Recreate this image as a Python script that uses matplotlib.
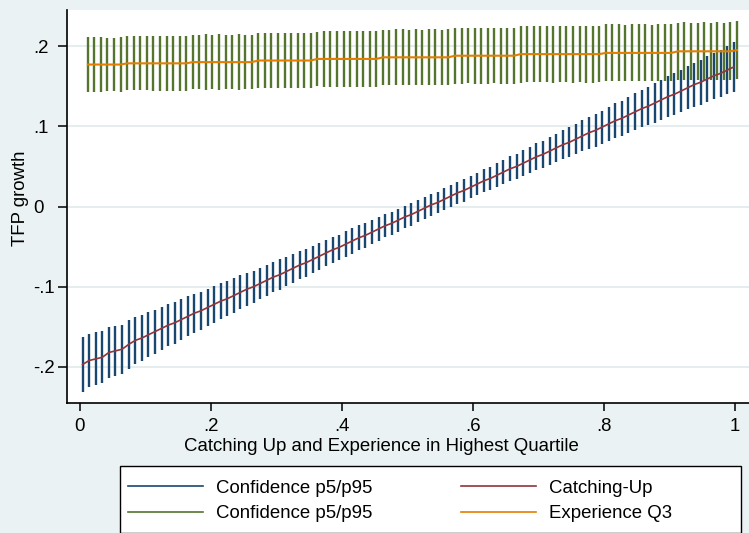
import numpy as np
import matplotlib
matplotlib.use("Agg")
import matplotlib.pyplot as plt
from matplotlib.patches import Rectangle
from matplotlib.lines import Line2D

plt.rcParams['font.family'] = ['Liberation Sans', 'DejaVu Sans']

# ---- data -------------------------------------------------------------
# grid of evaluation points for each interaction term
x_catch = np.linspace(0.004, 0.998, 100)
x_exper = np.linspace(0.012, 1.003, 100)

# predicted TFP growth, catching-up term
catch_mid = [
    -0.197, -0.192, -0.190, -0.188, -0.182, -0.180, -0.178, -0.172, -0.167, -0.164,
    -0.160, -0.156, -0.152, -0.148, -0.145, -0.141, -0.137, -0.133, -0.130, -0.126,
    -0.122, -0.118, -0.115, -0.111, -0.107, -0.103, -0.100, -0.096, -0.092, -0.088,
    -0.085, -0.081, -0.077, -0.073, -0.070, -0.066, -0.062, -0.058, -0.054, -0.051,
    -0.047, -0.043, -0.039, -0.036, -0.032, -0.028, -0.024, -0.021, -0.017, -0.013,
    -0.010, -0.006, -0.002, 0.002, 0.005, 0.009, 0.013, 0.017, 0.020, 0.024,
    0.028, 0.032, 0.035, 0.039, 0.043, 0.047, 0.050, 0.054, 0.058, 0.062,
    0.065, 0.069, 0.073, 0.077, 0.080, 0.084, 0.088, 0.092, 0.095, 0.099,
    0.103, 0.107, 0.110, 0.114, 0.118, 0.122, 0.125, 0.129, 0.133, 0.137,
    0.140, 0.144, 0.148, 0.152, 0.155, 0.159, 0.163, 0.166, 0.170, 0.174,
]
# half-width of the p5/p95 band for the catching-up prediction
catch_hw = [
    0.034, 0.0335, 0.033, 0.0325, 0.032, 0.031, 0.0305, 0.030, 0.0295, 0.029,
    0.028, 0.0275, 0.027, 0.0265, 0.026, 0.0255, 0.025, 0.0245, 0.024, 0.0235,
    0.023, 0.0225, 0.022, 0.0215, 0.021, 0.0205, 0.020, 0.0197, 0.0194, 0.019,
    0.019, 0.0185, 0.018, 0.0177, 0.0174, 0.017, 0.0167, 0.0164, 0.0162, 0.016,
    0.016, 0.0157, 0.0155, 0.0152, 0.015, 0.0148, 0.0146, 0.0144, 0.0142, 0.014,
    0.014, 0.0139, 0.0138, 0.0137, 0.0136, 0.0135, 0.0136, 0.0137, 0.0138, 0.0139,
    0.014, 0.0143, 0.0146, 0.0149, 0.0152, 0.0155, 0.0158, 0.0161, 0.0164, 0.0167,
    0.017, 0.0174, 0.0178, 0.0182, 0.0186, 0.019, 0.0194, 0.0198, 0.0202, 0.0206,
    0.021, 0.0215, 0.022, 0.0225, 0.023, 0.0235, 0.024, 0.0245, 0.025, 0.0255,
    0.026, 0.0265, 0.027, 0.0275, 0.028, 0.0285, 0.029, 0.0295, 0.030, 0.031,
]

# predicted TFP growth, experience in third quartile
exper_mid = (
    [0.177] * 6 + [0.1785] * 10 + [0.180] * 10 + [0.182] * 9 + [0.184] * 10
    + [0.186] * 11 + [0.188] * 10 + [0.190] * 13 + [0.1915] * 11
    + [0.1935] * 9 + [0.195] * 1
)
exper_hw = [
    0.034, 0.0345, 0.0345, 0.0335, 0.0335, 0.034, 0.0335, 0.0335, 0.0335, 0.0335,
    0.034, 0.034, 0.034, 0.0345, 0.034, 0.0345, 0.034, 0.034, 0.0345, 0.034,
    0.0345, 0.034, 0.034, 0.0345, 0.034, 0.034, 0.0345, 0.034, 0.0345, 0.034,
    0.0345, 0.0345, 0.034, 0.0345, 0.0345, 0.034, 0.0345, 0.0345, 0.035, 0.0345,
    0.0345, 0.035, 0.0345, 0.0345, 0.035, 0.0345, 0.0345, 0.035, 0.035, 0.0345,
    0.035, 0.0345, 0.035, 0.035, 0.0345, 0.035, 0.035, 0.035, 0.0345, 0.035,
    0.035, 0.035, 0.0345, 0.035, 0.035, 0.035, 0.0355, 0.035, 0.035, 0.035,
    0.035, 0.0355, 0.035, 0.035, 0.0355, 0.035, 0.0355, 0.0355, 0.035, 0.0355,
    0.0355, 0.0355, 0.035, 0.0355, 0.0355, 0.0355, 0.035, 0.0355, 0.0355, 0.0355,
    0.0355, 0.036, 0.0355, 0.0355, 0.036, 0.0355, 0.036, 0.0355, 0.036, 0.036,
]

x_ticks = [0, 0.2, 0.4, 0.6, 0.8, 1.0]
x_ticklabels = ["0", ".2", ".4", ".6", ".8", "1"]
y_ticks = [-0.2, -0.1, 0, 0.1, 0.2]
y_ticklabels = ["-.2", "-.1", "0", ".1", ".2"]

labels = ["Confidence p5/p95", "Catching-Up", "Confidence p5/p95", "Experience Q3"]

# ---- style ------------------------------------------------------------
NAVY = "#1a476f"
MAROON = "#90353b"
GREEN = "#55752f"
ORANGE = "#e37e00"
BG = "#eaf2f3"
GRID = "#e3ecee"
FS = 13.4

W, H = 749, 533
fig = plt.figure(figsize=(W / 100, H / 100), dpi=100)
fig.patch.set_facecolor(BG)

ax = fig.add_axes([67 / W, (H - 403) / H, 682 / W, 393 / H])
ax.set_facecolor("white")

cm = np.asarray(catch_mid)
ch = np.asarray(catch_hw)
em = np.asarray(exper_mid)
eh = np.asarray(exper_hw)

ax.vlines(x_catch, cm - ch, cm + ch, color=NAVY, lw=1.7, zorder=3)
ax.vlines(x_exper, em - eh, em + eh, color=GREEN, lw=1.7, zorder=3)
ax.plot(x_catch, cm, color=MAROON, lw=1.2, zorder=4)
ax.plot(x_exper, em, color=ORANGE, lw=1.5, zorder=4)

ax.set_xlim(-0.0198, 1.0214)
ax.set_ylim(-0.245, 0.245)

ax.set_xticks(x_ticks)
ax.set_xticklabels(x_ticklabels, fontsize=FS)
ax.set_yticks(y_ticks)
ax.set_yticklabels(y_ticklabels, fontsize=FS)
for lab in ax.get_yticklabels():
    lab.set_horizontalalignment("left")

ax.tick_params(axis="x", direction="out", length=6, width=1.1, pad=5, color="black")
ax.tick_params(axis="y", direction="out", length=6.5, width=1.1, pad=18, color="black")

ax.grid(axis="y", color=GRID, lw=1.3, zorder=0)
ax.set_axisbelow(True)

for side in ("top", "right"):
    ax.spines[side].set_visible(False)
for side in ("left", "bottom"):
    ax.spines[side].set_linewidth(1.2)
    ax.spines[side].set_color("black")

fig.text(381 / W, (H - 451) / H, "Catching Up and Experience in Highest Quartile",
         ha="center", va="baseline", fontsize=FS)
fig.text(21 / W, (H - 198) / H, "TFP growth", rotation=90,
         ha="center", va="center", fontsize=FS)

# legend frame
fig.patches.append(Rectangle((120 / W, 0.5 / H), (741 - 120) / W, (533 - 466) / H,
                             transform=fig.transFigure, facecolor="white",
                             edgecolor="black", lw=1.0, zorder=1))

handles = [
    Line2D([], [], color=NAVY, lw=1.2),
    Line2D([], [], color=MAROON, lw=1.2),
    Line2D([], [], color=GREEN, lw=1.2),
    Line2D([], [], color=ORANGE, lw=1.2),
]
order = [0, 2, 1, 3]
leg = fig.legend([handles[i] for i in order], [labels[i] for i in order],
                 ncol=2, loc="center left",
                 bbox_to_anchor=(128 / W, (H - 501) / H),
                 frameon=False, fontsize=FS, handlelength=4.05,
                 handletextpad=0.7, columnspacing=4.72, labelspacing=0.45,
                 borderpad=0, borderaxespad=0)
leg.set_zorder(2)

fig.savefig("out.png", dpi=100, facecolor=BG)
